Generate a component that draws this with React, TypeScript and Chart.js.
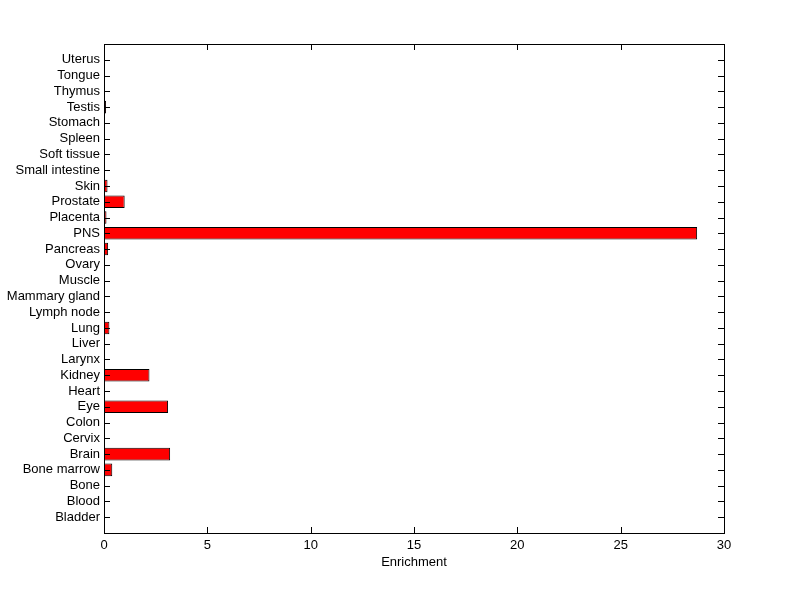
import React, { useEffect, useRef } from 'react';
import { Chart, registerables } from 'chart.js';

Chart.register(...registerables);

const categories = [
  'Bladder', 'Blood', 'Bone', 'Bone marrow', 'Brain', 'Cervix', 'Colon', 'Eye', 'Heart', 'Kidney',
  'Larynx', 'Liver', 'Lung', 'Lymph node', 'Mammary gland', 'Muscle', 'Ovary', 'Pancreas', 'PNS', 'Placenta',
  'Prostate', 'Skin', 'Small intestine', 'Soft tissue', 'Spleen', 'Stomach', 'Testis', 'Thymus', 'Tongue', 'Uterus',
];
const enrichment = [
  0, 0, 0, 0.4, 3.2, 0, 0, 3.1, 0, 2.2,
  0, 0, 0.26, 0, 0, 0, 0, 0.2, 28.7, 0.12,
  1.0, 0.17, 0, 0, 0, 0, 0.1, 0, 0, 0.05,
];
const xTicks = [0, 5, 10, 15, 20, 25, 30];
const xTitle = 'Enrichment';

const FONT = { family: 'Liberation Sans, Arial, sans-serif', size: 13 };

export default function App() {
  const ref = useRef<HTMLCanvasElement>(null);

  useEffect(() => {
    document.body.style.margin = '0';
    const labels = ['', ...categories, ''];
    const data = [null, ...enrichment, null];

    const boxPlugin = {
      id: 'matlabBox',
      afterDraw(chart: any) {
        const { ctx, chartArea: a, scales } = chart;
        const xs = scales.x;
        const ys = scales.y;
        const L = 6;
        ctx.save();
        ctx.strokeStyle = '#000';
        ctx.lineWidth = 1;
        ctx.beginPath();
        for (const t of xTicks) {
          const px = Math.round(xs.getPixelForValue(t)) + 0.5;
          ctx.moveTo(px, a.top);
          ctx.lineTo(px, a.top + L);
          ctx.moveTo(px, a.bottom);
          ctx.lineTo(px, a.bottom - L);
        }
        categories.forEach((_c, i) => {
          const py = Math.round(ys.getPixelForValue(i + 1)) + 0.5;
          ctx.moveTo(a.left, py);
          ctx.lineTo(a.left + L, py);
          ctx.moveTo(a.right, py);
          ctx.lineTo(a.right - L, py);
        });
        ctx.stroke();
        ctx.strokeRect(Math.round(a.left) + 0.5, Math.round(a.top) + 0.5, Math.round(a.right - a.left), Math.round(a.bottom - a.top));
        ctx.restore();
      },
    };

    const chart = new Chart(ref.current as HTMLCanvasElement, {
      type: 'bar',
      data: {
        labels,
        datasets: [
          {
            data,
            backgroundColor: '#ff0000',
            borderColor: '#000000',
            borderWidth: 1,
            borderSkipped: false,
            barPercentage: 0.8,
            categoryPercentage: 1,
          },
        ],
      },
      options: {
        indexAxis: 'y',
        responsive: false,
        animation: false,
        events: [],
        layout: { padding: { left: 0, top: 44, right: 76, bottom: 0 } },
        plugins: { legend: { display: false }, tooltip: { enabled: false } },
        scales: {
          x: {
            type: 'linear',
            min: 0,
            max: 30,
            afterFit: (s: any) => { s.height = 66; },
            afterBuildTicks: (s: any) => { s.ticks = xTicks.map((v) => ({ value: v })); },
            grid: { display: false, drawTicks: false },
            border: { display: false },
            ticks: { color: '#000', font: FONT, padding: 5, maxRotation: 0 },
            title: { display: true, text: xTitle, color: '#000', font: FONT, padding: { top: 0, bottom: 29 } },
          },
          y: {
            type: 'category',
            reverse: true,
            offset: false,
            afterFit: (s: any) => { s.width = 104; },
            grid: { display: false, drawTicks: false },
            border: { display: false },
            ticks: { color: '#000', font: FONT, padding: 4, autoSkip: false },
          },
        },
      },
      plugins: [boxPlugin],
    } as any);

    return () => chart.destroy();
  }, []);

  return (
    <div style={{ position: 'absolute', left: 0, top: 0, width: 800, height: 599, background: '#fff' }}>
      <canvas ref={ref} width={800} height={599} style={{ display: 'block' }} />
    </div>
  );
}
